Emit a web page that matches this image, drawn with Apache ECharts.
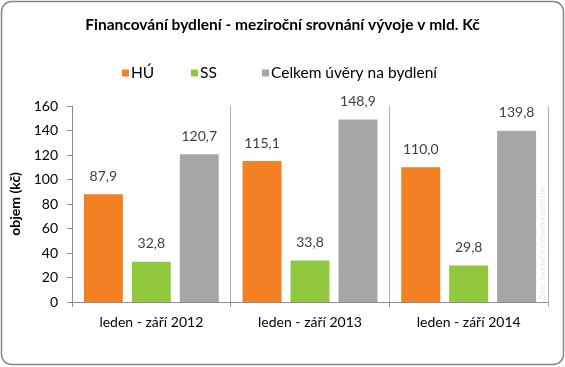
<!DOCTYPE html>
<html><head><meta charset="utf-8">
<script src="https://cdn.jsdelivr.net/npm/echarts@6/dist/echarts.min.js"></script>
<style>html,body{margin:0;padding:0;background:#fff}#c{width:565px;height:367px}</style>
</head><body><div id="c"></div>
<script>
const categories = ['leden - září 2012', 'leden - září 2013', 'leden - září 2014'];
const seriesNames = ['HÚ', 'SS', 'Celkem úvěry na bydlení'];
const huValues = [87.9, 115.1, 110.0];
const ssValues = [32.8, 33.8, 29.8];
const totalValues = [120.7, 148.9, 139.8];
const yTicks = [0, 20, 40, 60, 80, 100, 120, 140, 160];

const colors = ['#F38123', '#92C83E', '#A6A6A6'];
const FONT = 'Lato';
const chart = echarts.init(document.getElementById('c'), null, {renderer: 'canvas'});
const fmt = v => v.toFixed(1).replace('.', ',');
const mk = (name, data, color) => ({
  name, type: 'bar', data, barGap: '23%', barCategoryGap: '15%',
  itemStyle: {color},
  label: {show: true, position: 'top', distance: 11, formatter: p => fmt(p.value),
    color: '#404040', fontFamily: FONT, fontSize: 14}
});
const legendLefts = [117, 186, 257];
chart.setOption({
  animation: false,
  textStyle: {fontFamily: FONT},
  title: {text: 'Financování bydlení - meziroční srovnání vývoje v mld. Kč', left: 'center', top: 12,
    textStyle: {fontFamily: FONT, fontSize: 15.5, fontWeight: 'bold', color: '#000'}},
  legend: seriesNames.map((n, i) => ({top: 60, left: legendLefts[i], itemWidth: 7, itemHeight: 7, icon: 'rect',
    textStyle: {fontFamily: FONT, fontSize: 15.5, color: '#000', padding: [0, 0, 0, -3]},
    data: [n]})),
  grid: {left: 72, right: 17, top: 106, bottom: 65, containLabel: false},
  xAxis: {type: 'category', data: categories,
    axisLine: {lineStyle: {color: '#8C8C8C'}},
    axisTick: {show: true, length: 5, lineStyle: {color: '#8C8C8C'}},
    splitLine: {show: true, lineStyle: {color: '#B0B0B0'}},
    axisLabel: {color: '#000', fontFamily: FONT, fontSize: 14, margin: 13}},
  yAxis: {type: 'value', min: 0, max: 160, interval: 20,
    name: 'objem (kč)', nameLocation: 'middle', nameGap: 38, nameRotate: 90,
    nameTextStyle: {fontFamily: FONT, fontSize: 14, fontWeight: 'bold', color: '#000'},
    axisLine: {show: true, lineStyle: {color: '#8C8C8C'}},
    axisTick: {show: true, inside: false, length: 5, lineStyle: {color: '#8C8C8C'}},
    splitLine: {show: false},
    axisLabel: {color: '#000', fontFamily: FONT, fontSize: 14, margin: 14,
      formatter: v => yTicks.includes(v) ? String(v) : ''}},
  graphic: [
    {type: 'rect', shape: {x: 1.5, y: 1.5, width: 562, height: 363, r: 10},
      style: {fill: 'none', stroke: '#868686', lineWidth: 1.5}, z: 100},
    {type: 'line', shape: {x1: 548.5, y1: 106, x2: 548.5, y2: 307}, style: {stroke: '#B0B0B0', lineWidth: 1}, z: 50},
    {type: 'text', x: 543, y: 300, rotation: Math.PI / 2,
      style: {text: 'Zdroj: hypoteční a stavební spořitelny', fill: '#E4E4E4', font: '7px ' + FONT, align: 'left', verticalAlign: 'middle'}}
  ],
  series: [mk(seriesNames[0], huValues, colors[0]), mk(seriesNames[1], ssValues, colors[1]), mk(seriesNames[2], totalValues, colors[2])]
});
</script></body></html>
